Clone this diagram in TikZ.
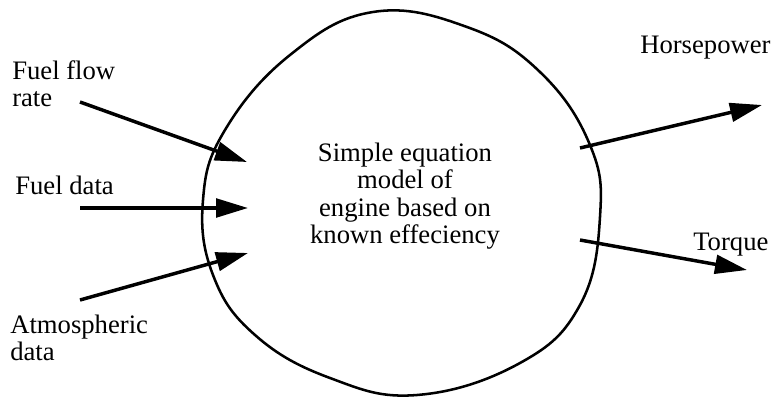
\documentclass[tikz,border=0pt]{standalone}
\usepackage{fontspec}
\setmainfont{Liberation Serif}
\usetikzlibrary{arrows.meta}
\begin{document}
\begin{tikzpicture}[x=.75pt,y=-.75pt,font=\fontsize{20}{20.5}\selectfont,
  flow/.style={line width=2.6pt,-{Triangle[length=24pt,width=14pt]}},
  lbl/.style={inner sep=0pt,align=left}]
\useasboundingbox (0,0) rectangle (776,400);
\draw[line width=1.9pt] plot[smooth cycle,tension=.7] coordinates {(373,12) (467,27) (540,72) (590,145) (600,217) (580,305) (520,363) (417,395) (330,378) (255,335) (213,275) (203,200) (225,130) (290,55)};
\node[lbl,anchor=center,align=center] (model) at (405,196) {Simple equation\\model of\\engine based on\\known effeciency};
\node[lbl,anchor=west] (flowrate) at (12,84) {Fuel flow\\rate};
\node[lbl,anchor=west] (fueldata) at (15,185) {Fuel data};
\node[lbl,anchor=west] (atmos) at (10,338) {Atmospheric\\data};
\node[lbl,anchor=west] (hp) at (640,48) {Horsepower};
\node[lbl,anchor=west] (torque) at (693,245) {Torque};
\coordinate (flowrate-s) at (80,102);\coordinate (flowrate-e) at (247,162);
\coordinate (fueldata-s) at (80,208);\coordinate (fueldata-e) at (248,208);
\coordinate (atmos-s) at (80,300);\coordinate (atmos-e) at (248,253);
\coordinate (hp-s) at (580,148);\coordinate (hp-e) at (762,105);
\coordinate (torque-s) at (580,240);\coordinate (torque-e) at (747,270);
\draw[flow] (flowrate-s)--(flowrate-e);\draw[flow] (fueldata-s)--(fueldata-e);
\draw[flow] (atmos-s)--(atmos-e);
\draw[flow] (hp-s)--(hp-e);\draw[flow] (torque-s)--(torque-e);
\end{tikzpicture}
\end{document}
